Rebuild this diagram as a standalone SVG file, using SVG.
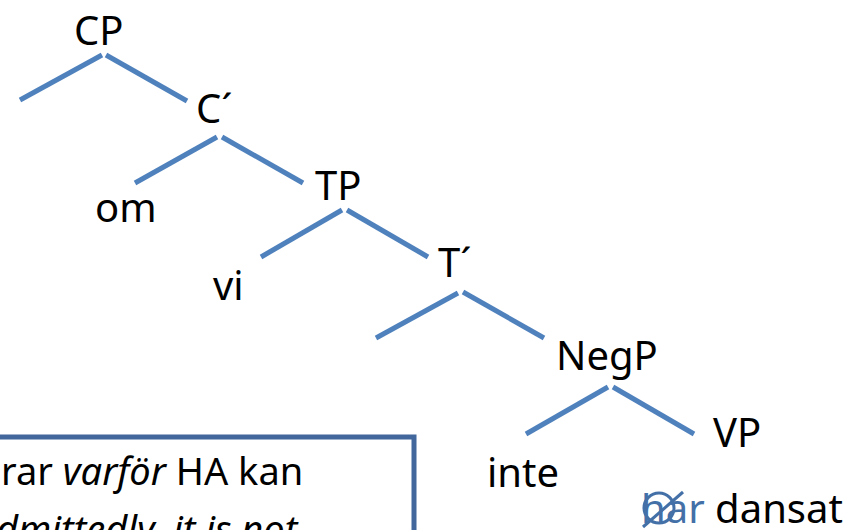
<svg xmlns="http://www.w3.org/2000/svg" width="848" height="530" viewBox="0 0 848 530">
<style>
text{font-family:"Noto Sans","Liberation Sans",sans-serif;font-size:40px;fill:#000}
.e{stroke:#4F81BD;stroke-width:5;fill:none}
.it{font-style:italic}
.sm{font-size:38px}
.blue{fill:#4470A8}
.del{stroke:#4470A8;stroke-width:3;fill:none}
.box{fill:#fff;stroke:#41679C;stroke-width:5}
</style>
<rect width="848" height="530" fill="#fff"/>
<g id="connectors">
<line class="e" x1="20" y1="100" x2="102" y2="55"/>
<line class="e" x1="106" y1="55" x2="187" y2="101"/>
<line class="e" x1="135" y1="183" x2="217" y2="137"/>
<line class="e" x1="222" y1="137" x2="303" y2="183"/>
<line class="e" x1="261" y1="257" x2="342" y2="210"/>
<line class="e" x1="347" y1="210" x2="428" y2="257"/>
<line class="e" x1="376" y1="338" x2="458" y2="293"/>
<line class="e" x1="463" y1="292" x2="544" y2="338"/>
<line class="e" x1="526" y1="434" x2="608" y2="387"/>
<line class="e" x1="613" y1="387" x2="694" y2="434"/>
</g>
<g id="CP"><text x="74" y="45">CP</text></g>
<g id="Cbar"><text x="196" y="123">C´</text></g>
<g id="om"><text x="95" y="222">om</text></g>
<g id="TP"><text x="315" y="200">TP</text></g>
<g id="vi"><text x="213" y="300">vi</text></g>
<g id="Tbar"><text x="438" y="277">T´</text></g>
<g id="NegP"><text x="556" y="370">NegP</text></g>
<g id="VP"><text x="713" y="447">VP</text></g>
<g id="inte"><text x="487" y="487">inte</text></g>
<g id="V">
<text x="641" y="523"><tspan class="blue">har</tspan> dansat</text>
<circle class="del" cx="659" cy="508" r="15"/>
<line class="del" x1="643" y1="527" x2="683" y2="492"/>
</g>
<g id="note">
<rect class="box" x="-10" y="437" width="424" height="200"/>
<text class="sm" x="1" y="485">rar <tspan class="it">varför</tspan> HA kan</text>
<text class="sm it" x="-4" y="543">dmittedly, it is not</text>
</g>
</svg>
